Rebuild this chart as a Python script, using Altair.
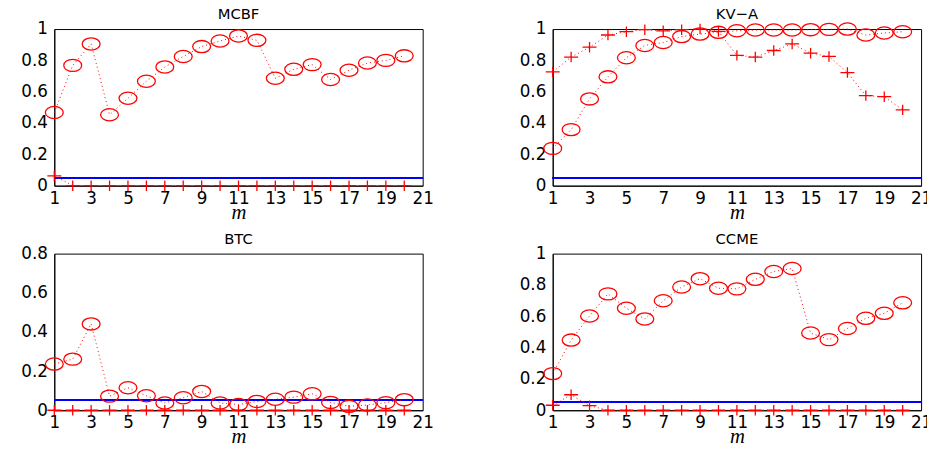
import altair as alt
import pandas as pd

m = list(range(1, 21))

mcbf_circle = [0.467, 0.768, 0.905, 0.453, 0.558, 0.667, 0.758, 0.825, 0.888, 0.924,
               0.956, 0.928, 0.686, 0.743, 0.773, 0.678, 0.737, 0.783, 0.800, 0.829]
mcbf_plus = [0.063] + [0.0] * 19

kva_circle = [0.238, 0.358, 0.554, 0.695, 0.817, 0.895, 0.914, 0.952, 0.968, 0.979,
              0.989, 0.994, 0.994, 0.994, 0.996, 0.998, 1.000, 0.962, 0.975, 0.983]
kva_plus = [0.726, 0.821, 0.884, 0.962, 0.983, 0.996, 0.989, 0.996, 1.000, 0.985,
            0.832, 0.821, 0.863, 0.905, 0.846, 0.825, 0.722, 0.575, 0.568, 0.484]

btc_circle = [0.236, 0.261, 0.441, 0.072, 0.115, 0.074, 0.037, 0.064, 0.096, 0.037,
              0.029, 0.045, 0.056, 0.067, 0.084, 0.040, 0.020, 0.027, 0.039, 0.054]
btc_plus = [0.0] * 20

ccme_circle = [0.234, 0.448, 0.602, 0.743, 0.651, 0.583, 0.699, 0.787, 0.840, 0.779,
               0.775, 0.836, 0.886, 0.905, 0.493, 0.451, 0.522, 0.587, 0.619, 0.686]
ccme_plus = [0.032, 0.099, 0.029] + [0.0] * 17

level = 0.05
x_ticks = list(range(1, 22, 2))

ELLIPSE = "M -1 0 A 1 0.68 0 1 0 1 0 A 1 0.68 0 1 0 -1 0 Z"
PLUS = "M -1 0 L 1 0 M 0 -0.75 L 0 0.75"

W, H = 374, 159
FONT = "DejaVu Sans"


def panel(title, circ, plus, ymax):
    df = pd.DataFrame({"m": m, "circle": circ, "plus": plus})
    base = alt.Chart(df)
    yticks = [round(v * 0.2, 1) for v in range(int(round(ymax / 0.2)) + 1)]
    xscale = alt.Scale(domain=[1, 21], nice=False, zero=False)
    xaxis = alt.Axis(values=x_ticks, title="m", titleFont="Liberation Serif",
                     titleFontStyle="italic", titleFontWeight="normal",
                     titleFontSize=21, titlePadding=-5, labelPadding=5,
                     labelOverlap=False, labelFlush=False, minExtent=21, maxExtent=21)
    x = alt.X("m:Q", scale=xscale, axis=xaxis)
    yscale = alt.Scale(domain=[0, ymax], nice=False)
    yaxis = alt.Axis(values=yticks, format="~g", title=None, minExtent=42, maxExtent=42,
                     labelPadding=7, labelOverlap=False, labelFlush=False)
    yc = alt.Y("circle:Q", scale=yscale, axis=yaxis)
    yp = alt.Y("plus:Q", scale=yscale, axis=yaxis)
    rule = base.mark_rule(color="#0000ff", strokeWidth=1.2).encode(
        y=alt.YDatum(level, scale=yscale, axis=yaxis))
    line_c = base.mark_line(color="#ff0000", strokeDash=[1, 3], strokeWidth=1).encode(x=x, y=yc)
    line_p = base.mark_line(color="#ff0000", strokeDash=[1, 3], strokeWidth=1).encode(x=x, y=yp)
    pt_c = base.mark_point(shape=ELLIPSE, size=330, color="#ff0000", filled=False,
                           strokeWidth=1.3, opacity=1).encode(x=x, y=yc)
    pt_p = base.mark_point(shape=PLUS, size=200, color="#ff0000", filled=False,
                           strokeWidth=1.3, opacity=1).encode(x=x, y=yp)
    return alt.layer(rule, line_c, line_p, pt_c, pt_p).properties(
        width=W, height=H,
        title=alt.TitleParams(title, fontSize=15, font=FONT, frame="group",
                              fontWeight="normal", offset=-2, anchor="middle",
                              color="black"))


top = alt.hconcat(panel("MCBF", mcbf_circle, mcbf_plus, 1.0),
                  panel("KV\u2212A", kva_circle, kva_plus, 1.0), spacing=77)
bottom = alt.hconcat(panel("BTC", btc_circle, btc_plus, 0.8),
                     panel("CCME", ccme_circle, ccme_plus, 1.0), spacing=77)

chart = alt.vconcat(top, bottom, spacing=8).properties(
    background="white",
    padding={"left": 4, "top": -5, "right": -6, "bottom": 0}
).configure_view(
    stroke="black", strokeWidth=1
).configure_axis(
    grid=False, ticks=False, domainColor="black", labelColor="black",
    labelFont=FONT, labelFontSize=17, titleColor="black"
)

chart.save("out.html", embed_options={"renderer": "svg", "actions": False})
